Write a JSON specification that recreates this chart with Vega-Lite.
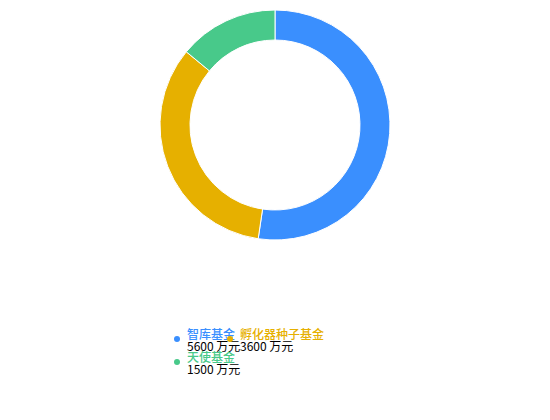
{
  "$schema": "https://vega.github.io/schema/vega-lite/v6.json",
  "width": 550,
  "height": 250,
  "padding": 0,
  "background": "white",
  "view": {"stroke": null},
  "data": {
    "values": [
      {"name": "智库基金", "value": 5600},
      {"name": "孵化器种子基金", "value": 3600},
      {"name": "天使基金", "value": 1500}
    ]
  },
  "mark": {"type": "arc", "radius": 115, "innerRadius": 85, "strokeWidth": 1},
  "encoding": {
    "theta": {"field": "value", "type": "quantitative", "stack": true},
    "order": {"field": "value", "type": "quantitative", "sort": "descending"},
    "color": {
      "field": "name",
      "type": "nominal",
      "sort": null,
      "scale": {"range": ["#3a8ffe", "#e6b000", "#48c98a"]},
      "legend": {
        "orient": "none",
        "legendX": 171,
        "legendY": 333,
        "title": null,
        "direction": "vertical",
        "values": ["智库基金", "天使基金"],
        "padding": 0,
        "symbolType": "circle",
        "symbolSize": 36,
        "symbolStrokeWidth": 0,
        "labelOffset": 4,
        "labelFont": "Noto Sans CJK SC",
        "labelFontSize": 12,
        "labelFontWeight": 500,
        "labelLimit": 0,
        "labelBaseline": "alphabetic",
        "labelExpr": "[datum.label, '']",
        "labelColor": {"expr": "scale('color', datum.value)"},
        "rowPadding": -1
      }
    },
    "opacity": {
      "field": "name",
      "type": "ordinal",
      "sort": "descending",
      "scale": {"range": [1, 1]},
      "legend": {
        "orient": "none",
        "legendX": 224,
        "legendY": 333,
        "title": null,
        "direction": "vertical",
        "values": ["孵化器种子基金"],
        "padding": 0,
        "symbolType": "circle",
        "symbolSize": 36,
        "symbolFillColor": "#e6b000",
        "symbolStrokeWidth": 0,
        "labelOffset": 4,
        "labelFont": "Noto Sans CJK SC",
        "labelFontSize": 12,
        "labelFontWeight": 500,
        "labelLimit": 0,
        "labelBaseline": "alphabetic",
        "labelExpr": "[datum.label, '']",
        "labelColor": "#e6b000"
      }
    },
    "stroke": {
      "field": "value",
      "type": "nominal",
      "sort": null,
      "scale": {"range": ["#ffffff", "#ffffff", "#ffffff"]},
      "legend": {
        "orient": "none",
        "legendX": 171,
        "legendY": 333,
        "title": null,
        "direction": "vertical",
        "values": [5600, 1500],
        "padding": 0,
        "symbolType": "circle",
        "symbolSize": 36,
        "symbolOpacity": 0,
        "labelOffset": 4,
        "labelFont": "Noto Sans CJK SC",
        "labelFontSize": 12,
        "labelLimit": 0,
        "labelBaseline": "alphabetic",
        "labelColor": "#000000",
        "labelExpr": "['', datum.label + ' 万元']",
        "rowPadding": -1
      }
    },
    "strokeWidth": {
      "field": "value",
      "type": "ordinal",
      "sort": "descending",
      "scale": {"range": [1, 1]},
      "legend": {
        "orient": "none",
        "legendX": 224,
        "legendY": 333,
        "title": null,
        "direction": "vertical",
        "values": [3600],
        "padding": 0,
        "symbolType": "circle",
        "symbolSize": 36,
        "symbolOpacity": 0,
        "labelOffset": 4,
        "labelFont": "Noto Sans CJK SC",
        "labelFontSize": 12,
        "labelLimit": 0,
        "labelBaseline": "alphabetic",
        "labelColor": "#000000",
        "labelExpr": "['', datum.label + ' 万元']"
      }
    }
  },
  "config": {
    "legend": {"symbolBaseFillColor": "#e6b000"},
    "style": {"guide-label": {"lineHeight": 12}}
  }
}
